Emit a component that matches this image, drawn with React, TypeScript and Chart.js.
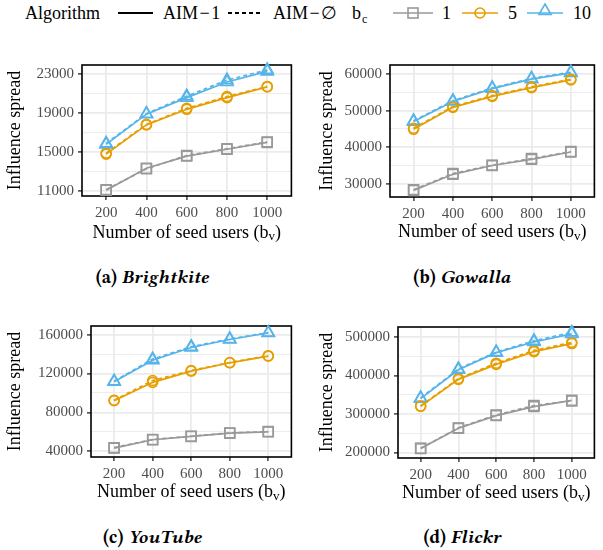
import React, { useEffect, useRef } from "react";
import { Chart, registerables } from "chart.js";
Chart.register(...registerables);

// ---------- data ----------
const SEED_USERS = [200, 400, 600, 800, 1000];

// (a) Brightkite
const BK_AIM1_BC1 = [11100, 13350, 14600, 15300, 16000];
const BK_AIM0_BC1 = [11150, 13300, 14650, 15350, 16050];
const BK_AIM1_BC5 = [14800, 17800, 19400, 20600, 21700];
const BK_AIM0_BC5 = [14900, 17850, 19500, 20700, 21750];
const BK_AIM1_BC10 = [15800, 18900, 20600, 22200, 23300];
const BK_AIM0_BC10 = [15900, 18950, 20750, 22400, 23450];
const BK_MAJOR = [11000, 15000, 19000, 23000];
const BK_MINOR = [13000, 17000, 21000];

// (b) Gowalla
const GW_AIM1_BC1 = [28200, 32600, 35000, 36700, 38700];
const GW_AIM0_BC1 = [28400, 32800, 35100, 36900, 38800];
const GW_AIM1_BC5 = [44900, 50900, 53900, 56300, 58400];
const GW_AIM0_BC5 = [45200, 51100, 54100, 56500, 58600];
const GW_AIM1_BC10 = [47000, 52500, 56000, 58600, 60300];
const GW_AIM0_BC10 = [47200, 52700, 56200, 58800, 60500];
const GW_MAJOR = [30000, 40000, 50000, 60000];
const GW_MINOR = [35000, 45000, 55000];

// (c) YouTube
const YT_AIM1_BC1 = [43400, 51900, 55300, 58700, 60100];
const YT_AIM0_BC1 = [43800, 52200, 55500, 58900, 60300];
const YT_AIM1_BC5 = [92100, 110900, 122500, 131000, 137800];
const YT_AIM0_BC5 = [92500, 112800, 123000, 131300, 138300];
const YT_AIM1_BC10 = [111500, 133700, 146700, 154900, 161600];
const YT_AIM0_BC10 = [112000, 134800, 147500, 155500, 162000];
const YT_MAJOR = [40000, 80000, 120000, 160000];
const YT_MINOR = [60000, 100000, 140000];

// (d) Flickr
const FL_AIM1_BC1 = [210200, 262900, 295900, 319300, 335600];
const FL_AIM0_BC1 = [211000, 264000, 297500, 322000, 334000];
const FL_AIM1_BC5 = [320000, 390000, 429000, 462000, 483000];
const FL_AIM0_BC5 = [321000, 392000, 432000, 465000, 486000];
const FL_AIM1_BC10 = [340000, 415000, 459500, 487000, 508000];
const FL_AIM0_BC10 = [342000, 417000, 461000, 490000, 512000];
const FL_MAJOR = [200000, 300000, 400000, 500000];
const FL_MINOR = [250000, 350000, 450000];

// ---------- styles ----------
const FONT = '"Liberation Serif", serif';
const CAPTION_FONT = '"Libertinus Serif", "Liberation Serif", serif';
const GREY = "#999999";
const ORANGE = "#E69F00";
const BLUE = "#56B4E9";
const GRID = "#EBEBEB";

type Panel = {
  key: string;
  caption: string;
  name: string;
  series: number[][];
  major: number[];
  minor: number[];
  yMin: number;
  yMax: number;
  box: { left: number; top: number; width: number; height: number };
  yWidth: number;
  xHeight: number;
  padTop: number;
  padRight: number;
  yTitlePad: number;
  xTitleY: number;
  captionX: number;
  captionY: number;
};

const PANELS: Panel[] = [
  {
    key: "a", caption: "(a) ", name: "Brightkite",
    series: [BK_AIM1_BC1, BK_AIM0_BC1, BK_AIM1_BC5, BK_AIM0_BC5, BK_AIM1_BC10, BK_AIM0_BC10],
    major: BK_MAJOR, minor: BK_MINOR, yMin: 10500, yMax: 23950,
    box: { left: 0, top: 50, width: 300, height: 200 },
    yWidth: 82, xHeight: 54, padTop: 15, padRight: 3, yTitlePad: 4.2, xTitleY: 183,
    captionX: 152, captionY: 277,
  },
  {
    key: "b", caption: "(b) ", name: "Gowalla",
    series: [GW_AIM1_BC1, GW_AIM0_BC1, GW_AIM1_BC5, GW_AIM0_BC5, GW_AIM1_BC10, GW_AIM0_BC10],
    major: GW_MAJOR, minor: GW_MINOR, yMin: 26400, yMax: 62470,
    box: { left: 300, top: 50, width: 303, height: 200 },
    yWidth: 90, xHeight: 53, padTop: 15, padRight: 1, yTitlePad: 16.2, xTitleY: 182.7,
    captionX: 462, captionY: 277,
  },
  {
    key: "c", caption: "(c) ", name: "YouTube",
    series: [YT_AIM1_BC1, YT_AIM0_BC1, YT_AIM1_BC5, YT_AIM0_BC5, YT_AIM1_BC10, YT_AIM0_BC10],
    major: YT_MAJOR, minor: YT_MINOR, yMin: 34200, yMax: 168800,
    box: { left: 0, top: 310, width: 300, height: 200 },
    yWidth: 91, xHeight: 53, padTop: 16, padRight: 3, yTitlePad: 4.2, xTitleY: 182.7,
    captionX: 152, captionY: 537,
  },
  {
    key: "d", caption: "(d) ", name: "Flickr",
    series: [FL_AIM1_BC1, FL_AIM0_BC1, FL_AIM1_BC5, FL_AIM0_BC5, FL_AIM1_BC10, FL_AIM0_BC10],
    major: FL_MAJOR, minor: FL_MINOR, yMin: 185800, yMax: 526000,
    box: { left: 300, top: 310, width: 303, height: 200 },
    yWidth: 98, xHeight: 52, padTop: 17, padRight: 1, yTitlePad: 16.2, xTitleY: 183.3,
    captionX: 462, captionY: 537,
  },
];

const decorPlugin = {
  id: "panelDecor",
  beforeDatasetsDraw(chart: any) {
    const { ctx, chartArea: a } = chart;
    ctx.save();
    ctx.strokeStyle = "#000";
    ctx.lineWidth = 1.6;
    ctx.strokeRect(a.left, a.top, a.right - a.left, a.bottom - a.top);
    ctx.restore();
  },
  afterDraw(chart: any, _args: any, opts: any) {
    const { ctx, chartArea: a } = chart;
    ctx.save();
    ctx.fillStyle = "#000";
    ctx.textBaseline = "middle";
    const main = "Number of seed users (b";
    const sub = "v";
    const close = ")";
    ctx.font = `18px ${FONT}`;
    const w1 = ctx.measureText(main).width;
    const w3 = ctx.measureText(close).width;
    ctx.font = `13px ${FONT}`;
    const w2 = ctx.measureText(sub).width;
    const total = w1 + w2 + w3;
    const cx = (a.left + a.right) / 2;
    let x = cx - total / 2;
    const y = opts.y;
    ctx.textAlign = "left";
    ctx.font = `18px ${FONT}`;
    ctx.fillText(main, x, y);
    x += w1;
    ctx.font = `13px ${FONT}`;
    ctx.fillText(sub, x, y + 4);
    x += w2;
    ctx.font = `18px ${FONT}`;
    ctx.fillText(close, x, y);
    ctx.restore();
  },
};

const COLORS = [GREY, GREY, ORANGE, ORANGE, BLUE, BLUE];
const SHAPES = ["rect", "rect", "circle", "circle", "triangle", "triangle"];
const RADII = [7, 7, 5, 5, 7, 7];
const LABELS = ["AIM-1, bc=1", "AIM-∅, bc=1", "AIM-1, bc=5", "AIM-∅, bc=5", "AIM-1, bc=10", "AIM-∅, bc=10"];

function PanelChart({ p }: { p: Panel }) {
  const ref = useRef<HTMLCanvasElement | null>(null);
  useEffect(() => {
    if (!ref.current) return;
    const all = [...p.major, ...p.minor].sort((a, b) => a - b);
    const datasets = p.series.map((vals, i) => ({
      label: LABELS[i],
      data: SEED_USERS.map((x, j) => ({ x, y: vals[j] })),
      borderColor: COLORS[i],
      backgroundColor: "rgba(0,0,0,0)",
      borderWidth: 1.7,
      borderDash: i % 2 === 1 ? [4, 3] : [],
      pointStyle: SHAPES[i],
      pointRadius: RADII[i],
      pointBorderWidth: 1.6,
      pointBorderColor: COLORS[i],
      pointBackgroundColor: "rgba(0,0,0,0)",
      tension: 0,
      clip: false as any,
      order: i % 2 === 1 ? 1 : 0,
    }));
    const chart = new Chart(ref.current, {
      type: "line",
      data: { datasets },
      plugins: [decorPlugin],
      options: {
        animation: false,
        responsive: false,
        devicePixelRatio: 1,
        layout: { padding: { left: 0, right: p.padRight, top: p.padTop, bottom: 0 } },
        plugins: {
          legend: { display: false },
          tooltip: { enabled: false },
          panelDecor: { y: p.xTitleY },
        } as any,
        scales: {
          x: {
            type: "linear",
            min: 80,
            max: 1120,
            afterBuildTicks: (s: any) => {
              s.ticks = SEED_USERS.map((v) => ({ value: v }));
            },
            afterFit: (s: any) => {
              s.height = p.xHeight;
            },
            border: { display: false },
            grid: {
              color: GRID,
              lineWidth: 1.8,
              drawTicks: true,
              tickLength: 4,
              tickColor: "#333333",
              tickWidth: 1.4,
            },
            ticks: {
              font: { family: FONT, size: 15 },
              color: "#4D4D4D",
              padding: 4,
              maxRotation: 0,
              callback: (v: any) => String(v),
            },
          },
          y: {
            type: "linear",
            min: p.yMin,
            max: p.yMax,
            afterBuildTicks: (s: any) => {
              s.ticks = all.map((v) => ({ value: v }));
            },
            afterFit: (s: any) => {
              s.width = p.yWidth;
            },
            border: { display: false },
            grid: {
              color: GRID,
              lineWidth: (c: any) => (c.tick && p.major.includes(c.tick.value) ? 1.8 : 0.9),
              drawTicks: true,
              tickLength: 4,
              tickColor: (c: any) =>
                c.tick && p.major.includes(c.tick.value) ? "#333333" : "rgba(0,0,0,0)",
              tickWidth: 1.4,
            },
            ticks: {
              font: { family: FONT, size: 15 },
              color: "#4D4D4D",
              padding: 4,
              callback: (v: any) => (p.major.includes(v) ? String(v) : ""),
            },
            title: {
              display: true,
              text: "Influence spread",
              color: "#000",
              font: { family: FONT, size: 18 },
              padding: { top: p.yTitlePad, bottom: 0 },
            },
          },
        },
      } as any,
    });
    return () => chart.destroy();
  }, [p]);
  return (
    <canvas
      ref={ref}
      width={p.box.width}
      height={p.box.height}
      style={{
        position: "absolute",
        left: p.box.left,
        top: p.box.top,
        width: p.box.width,
        height: p.box.height,
      }}
    />
  );
}

function Legend() {
  const textStyle = (left: number): React.CSSProperties => ({
    position: "absolute",
    left,
    top: 3,
    fontSize: 18,
    lineHeight: "20px",
    color: "#000",
    whiteSpace: "nowrap",
  });
  const tri = (cx: number, cy: number, r: number) => {
    const pts = [0, 120, 240].map((d) => {
      const rad = (d * Math.PI) / 180;
      return `${cx + Math.sin(rad) * r},${cy - Math.cos(rad) * r}`;
    });
    return pts.join(" ");
  };
  return (
    <>
      <svg width={603} height={28} style={{ position: "absolute", left: 0, top: 0 }}>
        <line x1={118} x2={153} y1={13} y2={13} stroke="#000" strokeWidth={1.8} />
        <line x1={228} x2={262} y1={13} y2={13} stroke="#000" strokeWidth={1.8} strokeDasharray="4 3" />
        <line x1={393} x2={433} y1={13} y2={13} stroke={GREY} strokeWidth={1.7} />
        <rect x={408} y={8} width={10} height={10} fill="none" stroke={GREY} strokeWidth={1.6} />
        <line x1={462} x2={498} y1={13} y2={13} stroke={ORANGE} strokeWidth={1.7} />
        <circle cx={480} cy={13} r={5} fill="none" stroke={ORANGE} strokeWidth={1.6} />
        <line x1={527} x2={563} y1={13} y2={13} stroke={BLUE} strokeWidth={1.7} />
        <polygon points={tri(545, 11, 7)} fill="none" stroke={BLUE} strokeWidth={1.6} />
      </svg>
      <div style={textStyle(25)}>Algorithm</div>
      <div style={textStyle(163)}>AIM{"\u200A\u2212\u200A"}1</div>
      <div style={textStyle(273)}>AIM{"\u200A\u2212\u200A"}∅</div>
      <div style={textStyle(352)}>
        b<span style={{ fontSize: 12, position: "relative", top: 4, marginLeft: 1 }}>c</span>
      </div>
      <div style={textStyle(442)}>1</div>
      <div style={textStyle(508)}>5</div>
      <div style={textStyle(573)}>10</div>
    </>
  );
}

export default function App() {
  return (
    <div
      style={{
        position: "absolute",
        left: 0,
        top: 0,
        width: 603,
        height: 550,
        background: "#fff",
        fontFamily: FONT,
        overflow: "hidden",
      }}
    >
      <Legend />
      {PANELS.map((p) => (
        <PanelChart key={p.key} p={p} />
      ))}
      {PANELS.map((p) => (
        <div
          key={"cap" + p.key}
          style={{
            position: "absolute",
            left: p.captionX,
            top: p.captionY - 11,
            transform: "translateX(-50%)",
            fontFamily: CAPTION_FONT,
            fontSize: 19,
            lineHeight: "22px",
            fontWeight: "bold",
            whiteSpace: "nowrap",
            color: "#000",
          }}
        >
          {p.caption}
          <i>{p.name}</i>
        </div>
      ))}
    </div>
  );
}
